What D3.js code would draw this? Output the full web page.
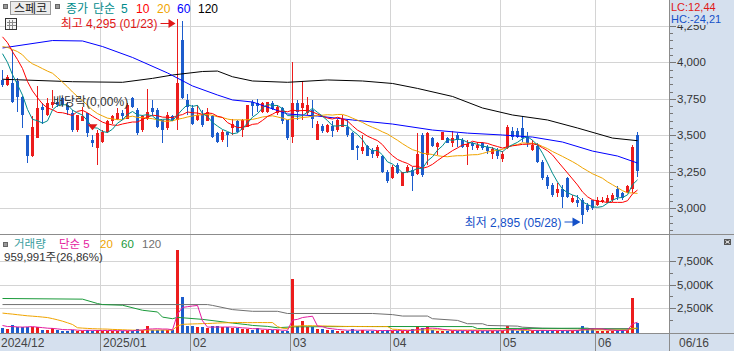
<!DOCTYPE html>
<html>
<head>
<meta charset="utf-8">
<title>스페코</title>
<script src="https://cdn.jsdelivr.net/npm/d3@7/dist/d3.min.js"></script>
<style>
  body { margin: 0; background: #fff; }
  svg { display: block; font-family: 'Liberation Sans', 'Noto Sans CJK KR', sans-serif; }
</style>
</head>
<body>
<div id="chart"></div>
<script>
// daily candles, 2024-12-02 .. 2025-06-16 (KRX trading days)
const open = [3880,3845,3860,3870,3765,3500,3355,3480,3695,3640, 3710,3730,3755,3710,3650,3535,3595,3650,3470,3410,
  3455,3525,3595,3615,3650,3615,3755,3675,3535,3615, 3685,3675,3605,3550,3630,3605,4150,3740,3685,3605,
  3640,3595,3630,3515,3470,3525,3550,3595,3535,3560, 3730,3720,3660,3660,3720,3650,3685,3605,3490,3720,
  3685,3650,3675,3470,3565,3525,3565,3535,3560,3560, 3515,3425,3390,3425,3400,3355,3355,3250,3205,3295,
  3150,3250,3265,3235,3500,3365,3480,3420,3470,3480, 3450,3500,3470,3420,3450,3410,3445,3420,3375,3400,
  3340,3410,3530,3530,3550,3490,3400,3425,3320,3215, 3160,3105,3135,3205,3040,3055,3055,3025,3055,3025,
  3045,3045,3055,3135,3105,3115,3135,3500]
const high = [3950,3910,4085,3890,3770,3505,3630,3835,3720,3755, 3810,3755,3760,3730,3675,3640,3695,3650,3500,3535,
  3535,3605,3640,3685,3675,3720,3765,3685,3640,3820, 3740,3685,3605,3660,3640,4295,4285,3785,3710,3710,
  3675,3685,3640,3525,3535,3525,3615,3605,3615,3710, 3740,3750,3730,3730,3735,3710,3695,3605,4005,3740,
  3870,3765,3740,3595,3580,3580,3595,3615,3640,3605, 3525,3435,3500,3435,3410,3435,3365,3265,3295,3310,
  3250,3295,3285,3515,3515,3525,3490,3455,3525,3490, 3530,3515,3480,3465,3455,3455,3455,3435,3420,3410,
  3390,3570,3560,3550,3630,3525,3470,3445,3330,3230, 3170,3170,3160,3215,3090,3090,3070,3035,3055,3080,
  3080,3090,3105,3150,3115,3160,3435,3525]
const low = [3830,3840,3720,3660,3550,3310,3350,3480,3580,3630, 3685,3695,3700,3640,3525,3525,3595,3490,3420,3295,
  3445,3515,3580,3605,3605,3615,3685,3500,3525,3605, 3630,3550,3445,3535,3595,3535,3750,3640,3570,3595,
  3560,3595,3480,3445,3455,3420,3500,3515,3490,3560, 3630,3660,3655,3655,3675,3640,3580,3470,3450,3605,
  3605,3640,3550,3465,3515,3515,3490,3525,3560,3490, 3400,3330,3375,3355,3345,3345,3240,3170,3200,3235,
  3150,3240,3120,3230,3215,3295,3420,3365,3465,3445, 3420,3420,3410,3295,3400,3400,3400,3375,3335,3335,
  3315,3405,3470,3480,3455,3420,3395,3310,3195,3135, 3080,3080,3000,3070,3035,3010,2895,2975,2990,3015,
  3035,3035,3045,3055,3055,3105,3105,3215]
const close = [3845,3900,3730,3760,3640,3355,3560,3685,3675,3720, 3730,3710,3710,3675,3535,3640,3630,3515,3445,3515,
  3525,3595,3630,3650,3630,3710,3695,3515,3630,3660, 3660,3560,3535,3640,3605,3855,3755,3695,3580,3640,
  3570,3660,3490,3455,3525,3500,3580,3525,3605,3710, 3700,3700,3720,3725,3680,3695,3595,3480,3720,3660,
  3720,3710,3615,3580,3530,3570,3530,3605,3615,3500, 3400,3410,3420,3360,3375,3420,3250,3185,3285,3240,
  3250,3285,3220,3375,3230,3515,3425,3445,3525,3450, 3480,3470,3420,3440,3425,3435,3410,3390,3405,3355,
  3375,3560,3485,3485,3480,3445,3435,3320,3205,3150, 3090,3135,3080,3080,3070,3035,2955,2990,3000,3055,
  3060,3070,3090,3080,3070,3150,3420,3255]
const volume = [425000,355000,780000,500000,520000,540000,500000,480000,250000,240000,
  420000,250000,140000,150000,250000,140000,130000,200000,140000,190000,
  140000,150000,110000,140000,130000,150000,140000,355000,250000,610000,
  250000,240000,200000,250000,190000,8600000,3700000,600000,590000,500000,
  480000,420000,600000,610000,500000,490000,420000,410000,350000,360000,
  200000,420000,190000,200000,210000,190000,140000,150000,5570000,620000,
  1135000,500000,480000,355000,350000,250000,240000,140000,150000,130000,
  355000,140000,200000,140000,130000,150000,140000,200000,140000,130000,
  140000,150000,300000,600000,420000,500000,200000,140000,150000,130000,
  140000,150000,130000,140000,140000,110000,140000,130000,150000,140000,
  140000,600000,200000,140000,210000,140000,130000,200000,190000,140000,
  150000,130000,140000,150000,140000,200000,610000,300000,420000,140000,
  130000,150000,140000,200000,190000,210000,3574000,959991]

// late-Nov values, guessed from where the short averages start
const priorClose = [4000,4020,4050,4080,4100,4050,4000,4020,4060,4020, 4300,4350,4300,4250,4250,4200,4150,4100,4000]
const priorVolume = [1500000,1800000,1700000,1700000,1700000,1300000,1300000,1300000,1300000,2600000,
  2800000,3000000,3500000,3900000,7000000,900000,800000,700000,600000]

// long averages: [day index, value]
const ma60 = [[0,4098],[10,4149],[16,4146],[20,4108],[26,4033],[33,3927],[38,3838],[43,3776],[46,3742],[50,3728],
  [57,3646],[63,3632],[70,3605],[78,3577],[86,3536],[93,3515],[100,3502],[106,3488],[112,3454],[118,3392],[123,3358],[127,3310]]
const ma120 = [[0,3884],[14,3867],[24,3863],[30,3890],[34,3913],[40,3937],[43,3940],[46,3901],[50,3872],[57,3863],
  [65,3879],[72,3872],[78,3855],[83,3821],[90,3766],[96,3687],[102,3639],[109,3605],[115,3550],[122,3481],[127,3463]]
// volume averages, thousands of shares
const volMa60 = [[0,3530],[16,3460],[19,3000],[20,2890],[24,2820],[28,2290],[31,2110],[32,1570],[34,1400],[35,1540],
  [40,1330],[46,940],[49,770],[50,690],[53,590],[55,450],[58,540],[70,580],[94,570],[95,360],[117,400],[118,310],
  [125,300],[126,360],[127,370]]
const volMa120 = [[0,2890],[41,2890],[42,2800],[46,2360],[50,2180],[55,2180],[57,1950],[74,1950],[78,1830],[80,1680],
  [85,1680],[86,1400],[91,1220],[93,870],[96,870],[97,690],[103,620],[104,510],[108,400],[115,340],[127,360]]

const monthLabels = ['2024/12', '2025/01', '02', '03', '04', '05', '06']
const monthStart = [0, 20, 38, 58, 78, 100, 119]
const lastDate = '06/16'
const highDate = '01/23'
const lowDate = '05/28'
const exDividendDay = 18
const priceTicks = [3000, 3250, 3500, 3750, 4000, 4250]
const volumeTicks = [2500000, 5000000, 7500000]

const W = 734
const H = 351
const plotW = 669
const priceBottom = 234
const volTop = 235
const volBottom = 333
const axisBg = '#d5e0ee'
const UP = '#ec1c1c'
const DOWN = '#1c5ccc'

const fmt = d3.format(',')
const comma = n => n.toFixed(2).replace('.', ',')

const x = d3.scaleLinear().domain([0, 127]).range([2.5, 637.5])
const yP = d3.scaleLinear().domain([3000, 4000]).range([208.3, 62.3])
const yV = d3.scaleLinear().domain([0, 7500000]).range([332, 260.8])

function movingAverage(values, prior, n) {
  const all = prior.concat(values)
  return values.map((_, i) => {
    const end = prior.length + i + 1
    return [i, d3.mean(all.slice(Math.max(0, end - n), end))]
  })
}

const svg = d3.select('#chart').append('svg').attr('width', W).attr('height', H)
svg.append('rect').attr('width', W).attr('height', H).attr('fill', '#fff')

const defs = svg.append('defs')
defs.append('clipPath').attr('id', 'clip-price')
  .append('rect').attr('x', 0).attr('y', 0).attr('width', plotW).attr('height', priceBottom)
defs.append('clipPath').attr('id', 'clip-vol')
  .append('rect').attr('x', 0).attr('y', volTop).attr('width', plotW).attr('height', volBottom - volTop)

// axis backgrounds
svg.append('rect').attr('x', plotW + 1).attr('y', 0).attr('width', W - plotW - 1).attr('height', volBottom).attr('fill', axisBg)
svg.append('rect').attr('x', 0).attr('y', volBottom + 1).attr('width', W).attr('height', H - volBottom - 1).attr('fill', axisBg)

// grid
const grid = svg.append('g').attr('stroke', '#d4d4d4').attr('shape-rendering', 'crispEdges')
priceTicks.forEach(v => {
  const y = Math.round(yP(v)) + 0.5
  grid.append('line').attr('x1', 0).attr('x2', plotW).attr('y1', y).attr('y2', y)
})
volumeTicks.forEach(v => {
  const y = Math.round(yV(v)) + 0.5
  grid.append('line').attr('x1', 0).attr('x2', plotW).attr('y1', y).attr('y2', y)
})
monthStart.slice(1).forEach(i => {
  const gx = x(i) - 2.5 + 0.5
  grid.append('line').attr('x1', gx).attr('x2', gx).attr('y1', 0).attr('y2', volBottom)
})

// candles
const idx = d3.range(close.length)
const candles = svg.append('g').attr('clip-path', 'url(#clip-price)').attr('shape-rendering', 'crispEdges')
  .selectAll('g').data(idx).join('g')
  .attr('fill', i => (close[i] >= open[i] ? UP : DOWN))
candles.append('rect')
  .attr('x', i => x(i) - 0.5)
  .attr('width', 1)
  .attr('y', i => yP(high[i]))
  .attr('height', i => Math.max(1, yP(low[i]) - yP(high[i])))
candles.append('rect')
  .attr('x', i => x(i) - 1.5)
  .attr('width', 3)
  .attr('y', i => yP(Math.max(open[i], close[i])))
  .attr('height', i => Math.max(1, Math.abs(yP(open[i]) - yP(close[i]))))

// price moving averages
const priceLine = d3.line().x(d => x(d[0])).y(d => yP(d[1]))
const priceMas = [
  { pts: ma120, color: '#000' },
  { pts: ma60, color: '#0000ff' },
  { pts: movingAverage(close, priorClose, 20), color: '#f0a400' },
  { pts: movingAverage(close, priorClose, 10), color: '#ff0000' },
  { pts: movingAverage(close, priorClose, 5), color: '#008c8c' },
]
svg.append('g').attr('clip-path', 'url(#clip-price)')
  .selectAll('path').data(priceMas).join('path')
  .attr('d', d => priceLine(d.pts))
  .attr('fill', 'none')
  .attr('stroke', d => d.color)
  .attr('stroke-width', 1)

// volume bars
svg.append('g').attr('clip-path', 'url(#clip-vol)').attr('shape-rendering', 'crispEdges')
  .selectAll('rect').data(idx).join('rect')
  .attr('x', i => x(i) - 1.5)
  .attr('width', 3)
  .attr('y', i => Math.min(yV(volume[i]), volBottom - 1))
  .attr('height', i => Math.max(1, volBottom - yV(volume[i])))
  .attr('fill', i => (close[i] >= open[i] ? UP : DOWN))

const volLine = d3.line().x(d => x(d[0])).y(d => yV(d[1]))
const volMas = [
  { pts: volMa120.map(d => [d[0], d[1] * 1000]), color: '#707070' },
  { pts: volMa60.map(d => [d[0], d[1] * 1000]), color: '#1a9a3a' },
  { pts: movingAverage(volume, priorVolume, 20), color: '#f0a400' },
  { pts: movingAverage(volume, priorVolume, 5), color: '#e41ca0' },
]
svg.append('g').attr('clip-path', 'url(#clip-vol)')
  .selectAll('path').data(volMas).join('path')
  .attr('d', d => volLine(d.pts))
  .attr('fill', 'none')
  .attr('stroke', d => d.color)
  .attr('stroke-width', 1)

// frame lines
const frame = svg.append('g').attr('stroke', '#8c8c8c').attr('shape-rendering', 'crispEdges')
frame.append('line').attr('x1', 0).attr('x2', W).attr('y1', volTop - 0.5).attr('y2', volTop - 0.5)
frame.append('line').attr('x1', 0).attr('x2', W).attr('y1', volBottom + 0.5).attr('y2', volBottom + 0.5)
frame.append('line').attr('x1', plotW + 0.5).attr('x2', plotW + 0.5).attr('y1', 0).attr('y2', H)
monthStart.slice(1).forEach(i => {
  const gx = x(i) - 2.5 + 0.5
  frame.append('line').attr('x1', gx).attr('x2', gx).attr('y1', volBottom).attr('y2', H)
})

// right axis: price
const axis = svg.append('g').attr('font-size', '11.5px').attr('fill', '#333')
const ticks = svg.append('g').attr('stroke', '#777').attr('shape-rendering', 'crispEdges')
d3.range(2850, 4351, 50).forEach(v => {
  const y = Math.round(yP(v)) + 0.5
  if (y < 0 || y > priceBottom) return
  const major = v % 250 === 0
  ticks.append('line').attr('x1', plotW + 1).attr('x2', plotW + (major ? 7 : 4)).attr('y1', y).attr('y2', y)
})
priceTicks.forEach(v => {
  axis.append('text').attr('x', plotW + 8).attr('y', yP(v)).attr('dy', '0.36em').text(fmt(v))
})

// right axis: volume
d3.range(1250000, 8000000, 1250000).forEach(v => {
  const y = Math.round(yV(v)) + 0.5
  const major = v % 2500000 === 0
  ticks.append('line').attr('x1', plotW + 1).attr('x2', plotW + (major ? 7 : 4)).attr('y1', y).attr('y2', y)
})
volumeTicks.forEach(v => {
  axis.append('text').attr('x', plotW + 8).attr('y', yV(v)).attr('dy', '0.36em').text(fmt(v / 1000) + 'K')
})

// bottom axis
const dates = svg.append('g').attr('font-size', '12px').attr('fill', '#444')
monthStart.forEach((i, k) => {
  dates.append('text').attr('x', k === 0 ? 1 : x(i) - 2.5 + 3).attr('y', 347).text(monthLabels[k])
})
dates.append('text').attr('x', plotW + 10).attr('y', 347).text(lastDate)

// LC / HC, sitting over the top of the 4,250 label
const last = close[close.length - 1]
const hiIdx = d3.maxIndex(high)
const loIdx = d3.minIndex(low)
svg.append('rect').attr('x', plotW + 1).attr('y', 0).attr('width', W - plotW - 1).attr('height', 25).attr('fill', axisBg)
svg.append('text').attr('x', plotW + 2).attr('y', 10.5).attr('font-size', '11px').attr('fill', '#e01818')
  .text('LC:' + comma((last / low[loIdx] - 1) * 100))
svg.append('text').attr('x', plotW + 2).attr('y', 23).attr('font-size', '11px').attr('fill', '#1450c8')
  .text('HC:' + comma((last / high[hiIdx] - 1) * 100))

// price legend
const legend = svg.append('g').attr('font-size', '12px')
legend.append('rect').attr('x', 3.5).attr('y', 4.5).attr('width', 4).attr('height', 4).attr('fill', '#999').attr('stroke', '#666')
legend.append('rect').attr('x', 10.5).attr('y', 1.5).attr('width', 40).attr('height', 13).attr('fill', '#ececec').attr('stroke', '#9a9a9a')
legend.append('text').attr('x', 30.5).attr('y', 12.5).attr('text-anchor', 'middle').attr('fill', '#222').text('스페코')
legend.append('rect').attr('x', 55.5).attr('y', 4.5).attr('width', 4).attr('height', 4).attr('fill', '#999').attr('stroke', '#666')
const priceKeys = [
  { t: '종가', x: 66, c: '#008c8c' },
  { t: '단순', x: 93, c: '#008c8c' },
  { t: '5', x: 121, c: '#008c8c' },
  { t: '10', x: 136, c: '#ff0000' },
  { t: '20', x: 157, c: '#f0a400' },
  { t: '60', x: 177, c: '#0000ff' },
  { t: '120', x: 198, c: '#000' },
]
priceKeys.forEach(k => legend.append('text').attr('x', k.x).attr('y', 12.5).attr('fill', k.c).text(k.t))

// table icon
const icon = svg.append('g').attr('fill', 'none').attr('stroke', '#333').attr('shape-rendering', 'crispEdges')
icon.append('rect').attr('x', 5.5).attr('y', 18.5).attr('width', 11).attr('height', 11).attr('fill', '#f4f4f4')
;[9.5, 12.5].forEach(p => {
  icon.append('line').attr('x1', p).attr('x2', p).attr('y1', 20).attr('y2', 29).attr('stroke', '#888')
  icon.append('line').attr('x1', 7).attr('x2', 16).attr('y1', p + 13).attr('y2', p + 13).attr('stroke', '#888')
})

// high / low notes
const hx = x(hiIdx)
svg.append('text').attr('x', hx - 20).attr('y', 28).attr('text-anchor', 'end')
  .attr('font-size', '12px').attr('fill', '#e01818').text('최고 ' + fmt(high[hiIdx]) + ' (' + highDate + ')')
svg.append('path').attr('d', `M${hx - 17},23.5H${hx - 8}`).attr('stroke', '#e01818')
svg.append('path').attr('d', `M${hx - 9},19L${hx - 2},23.5L${hx - 9},28Z`).attr('fill', '#e01818')

const lx = x(loIdx)
svg.append('text').attr('x', lx - 21).attr('y', 226.5).attr('text-anchor', 'end')
  .attr('font-size', '12px').attr('fill', '#1450c8').text('최저 ' + fmt(low[loIdx]) + ' (' + lowDate + ')')
svg.append('path').attr('d', `M${lx - 18},222H${lx - 9}`).attr('stroke', '#1450c8')
svg.append('path').attr('d', `M${lx - 10},217.5L${lx - 2},222L${lx - 10},226.5Z`).attr('fill', '#1450c8')

// ex-dividend mark
const ex = x(exDividendDay)
const exTop = yP(high[exDividendDay]) - 11
svg.append('path').attr('d', `M${ex - 5},${exTop}H${ex + 5}L${ex},${exTop + 6}Z`).attr('fill', '#e01818')
svg.append('text').attr('x', ex - 39.5).attr('y', exTop - 18).attr('font-size', '12px').attr('fill', '#333').text('배당락(0,00%)')

// volume legend
const vlegend = svg.append('g').attr('font-size', '11.5px')
vlegend.append('rect').attr('x', 3.5).attr('y', 242.5).attr('width', 4).attr('height', 4).attr('fill', '#999').attr('stroke', '#666')
const volKeys = [
  { t: '거래량', x: 14, c: '#3a9ea0' },
  { t: '단순 5', x: 59, c: '#e41ca0' },
  { t: '20', x: 100, c: '#f0a400' },
  { t: '60', x: 121, c: '#1a9a3a' },
  { t: '120', x: 142, c: '#707070' },
]
volKeys.forEach(k => vlegend.append('text').attr('x', k.x).attr('y', 248).attr('fill', k.c).text(k.t))
const lastVol = volume[volume.length - 1]
const prevVol = volume[volume.length - 2]
vlegend.append('text').attr('x', 4).attr('y', 261).attr('fill', '#333')
  .text(fmt(lastVol) + '주(' + comma(lastVol / prevVol * 100) + '%)')

// small close box on volume pane
svg.append('rect').attr('x', 724).attr('y', 239).attr('width', 7).attr('height', 6).attr('fill', '#555')
svg.append('path').attr('d', 'M725.5,240.5L729.5,243.5M729.5,240.5L725.5,243.5').attr('stroke', '#fff')
</script>
</body>
</html>
